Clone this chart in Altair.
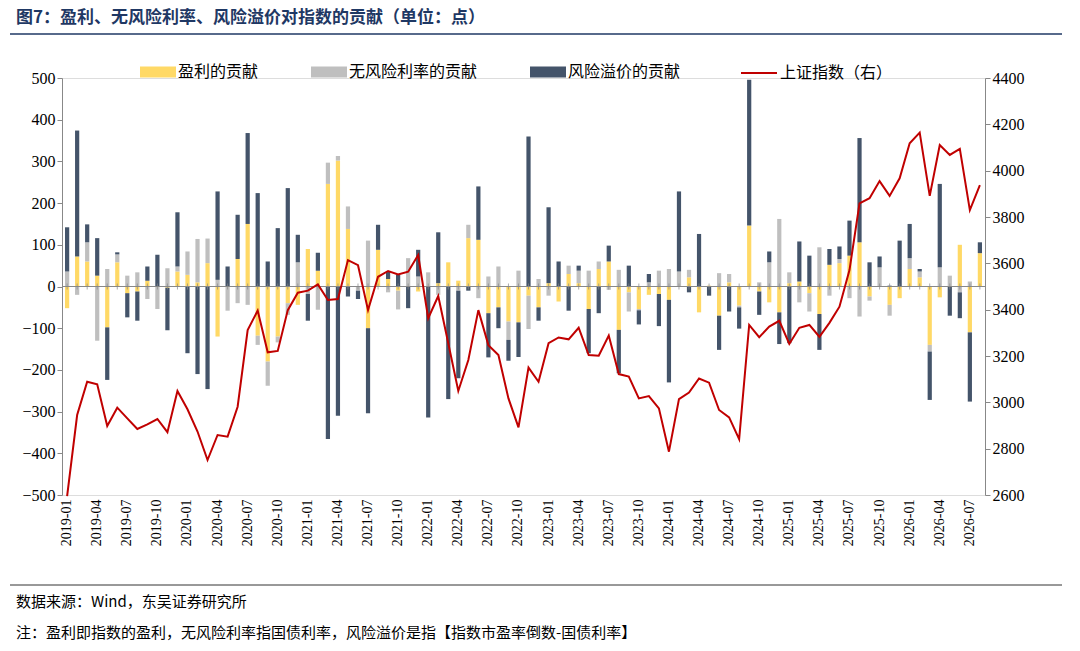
import altair as alt
import pandas as pd

months = [f"{y}-{m:02d}" for y in range(2019, 2027) for m in range(1, 13)][:92]

earn = [-52, 72, 60, 26, -98, 58, -16, -12, 14, 0, -3, 36, 28, 10, 56, -120, 0, 66, 150, -118,
        -180, -120, -40, -44, 90, 38, 246, 302, 138, 0, -100,
        88, 18, -10, 0, -12, 0, 8, 58, 14, 116, 112, -64, -50, -84, -86, -22, -50, 8, -36,
        30, 8, -54, 42, 60, -104, -14, -54, -20, -18, -32,
        0, 22, -62, 2, -70, 10, -46, 146, -12, -38, -62, 8, 12, -16, -66, 52, 56, 74, 106, -24,
        0, -44, -28, 42, 22, -140, -26, 0, 100, -110, 80]
rf = [36, -20, 46, -130, 42, 19, 26, 34, -30, -54, 44, 12, 56, 104, 59, 16, -58, -40, -44, -22,
      -58, -14, -28, 58, -18, -56, 51, 11, 54, -10, 110,
      0, -14, -45, 68, 24, 34, -20, 0, -10, 32, -28, 24, 48, -44, 38, -80, 18, -22, 0,
      20, 30, 38, 18, -8, 40, -46, -3, 10, 38, 42,
      36, 18, 0, 0, 32, 20, -4, 0, 10, 58, 162, 26, -38, -44, 94, -22, 10, -28, -72, -10,
      46, -26, 0, 26, 14, -16, 46, 26, -14, 12, 0]
prem = [106, 302, 43, 90, -126, 5, -58, -70, 34, 76, -102, 130, -160, -210, -246, 212, 48, 106, 218, 224,
        60, 140, 236, 66, -64, 43, -366, -310, -24, -20, -204,
        60, 18, 28, -52, 64, -314, 122, -270, -210, -10, 128, -106, -50, -50, -83, 360, -32, 182, 60,
        -58, 12, -106, -64, 38, -104, 50, -34, 20, -77, -198,
        192, -14, 126, -22, -82, -60, -51, 350, -56, 26, -76, -136, 96, 74, -86, 38, 30, 84, 250, 58,
        26, 2, 110, 82, 6, -116, 200, -70, -62, -166, 26]
index = [2595, 2945, 3089, 3078, 2898, 2977, 2931, 2885, 2905, 2928, 2871, 3049, 2970, 2874, 2751,
         2859, 2852, 2981, 3312, 3396, 3216, 3222, 3398, 3473, 3482, 3509, 3442, 3446, 3614, 3592, 3398,
         3542, 3567, 3552, 3564, 3636, 3363, 3459, 3255, 3049, 3183, 3398, 3247, 3204, 3017, 2892,
         3150, 3089, 3255, 3280, 3272, 3322, 3204, 3201, 3288, 3122, 3111, 3017, 3027, 2974, 2787,
         3014, 3042, 3103, 3085, 2967, 2935, 2841, 3334, 3281, 3327, 3352, 3252, 3322, 3334, 3283,
         3343, 3413, 3571, 3859, 3881, 3955, 3891, 3967, 4118, 4164, 3891, 4111, 4068, 4094, 3830, 3938]

series = ["盈利的贡献", "无风险利率的贡献", "风险溢价的贡献"]
colors = ["#FFD966", "#BFBFBF", "#44546A"]

rows = []
for i, m in enumerate(months):
    for k, vals in enumerate([earn, rf, prem]):
        rows.append({"month": m, "series": series[k], "order": k, "value": vals[i]})
bars_df = pd.DataFrame(rows)
line_df = pd.DataFrame({"month": months, "index": index, "name": "上证指数（右）"})

NUM = "Liberation Serif"
CJK = "Noto Sans CJK SC"

x = alt.X("month:O", sort=months, title=None, scale=alt.Scale(paddingInner=0.58, paddingOuter=0.3),
          axis=alt.Axis(labelExpr="indexof(['01','04','07','10'], slice(datum.value, 5)) >= 0 ? datum.value : ''",
                        labelAngle=270, labelFont=NUM, labelFontSize=14, labelColor="#000",
                        ticks=False, domain=False, labelPadding=4))

bars = alt.Chart(bars_df).mark_bar().encode(
    x=x,
    y=alt.Y("value:Q", title=None, scale=alt.Scale(domain=[-500, 500]),
            axis=alt.Axis(values=list(range(-500, 501, 100)), labelFont=NUM, labelFontSize=16,
                          labelColor="#000", grid=False, domainColor="#888", tickColor="#888", format="d")),
    color=alt.Color("series:N", sort=series, scale=alt.Scale(domain=series, range=colors),
                    legend=alt.Legend(title=None, orient="none", legendX=86, legendY=-16, direction="horizontal",
                                      labelFont=CJK, labelFontSize=16, labelColor="#000",
                                      symbolType="M-1.8,-0.55H1.8V0.55H-1.8Z", symbolSize=400,
                                      symbolStrokeWidth=0, columnPadding=52, labelOffset=10)),
    order=alt.Order("order:Q"),
)
zero_df = pd.DataFrame({"month": months})
zero = alt.Chart(zero_df).mark_rule(color="#888", strokeWidth=1).encode(y=alt.datum(0))
ticks = alt.Chart(zero_df).mark_tick(color="#888", size=6, orient="vertical").encode(
    x=alt.X("month:O", sort=months), y=alt.datum(0))
left = alt.layer(bars, zero, ticks)

line = alt.Chart(line_df).mark_line(strokeWidth=2).encode(
    x=alt.X("month:O", sort=months),
    y=alt.Y("index:Q", title=None, scale=alt.Scale(domain=[2600, 4400]),
            axis=alt.Axis(orient="right", values=list(range(2600, 4401, 200)), labelFont=NUM, labelFontSize=16,
                          labelColor="#000", grid=False, domainColor="#888", tickColor="#888", format="d")),
    stroke=alt.Stroke("name:N", scale=alt.Scale(range=["#C00000"]),
                      legend=alt.Legend(title=None, orient="none", legendX=686, legendY=-16,
                                        labelFont=CJK, labelFontSize=16, labelColor="#000",
                                        symbolType="M-1.8,0H1.8", symbolSize=400, symbolStrokeWidth=2,
                                        labelOffset=10)),
)

texts = pd.DataFrame({"t": ["图7：盈利、无风险利率、风险溢价对指数的贡献（单位：点）",
                            "数据来源：Wind，东吴证券研究所",
                            "注：盈利即指数的盈利，无风险利率指国债利率，风险溢价是指【指数市盈率倒数-国债利率】"]})
title = alt.Chart(texts.iloc[[0]]).mark_text(align="left", baseline="middle", font=CJK, fontSize=17,
                                             fontWeight="bold", color="#1F3864").encode(
    text="t:N", x=alt.value(-46), y=alt.value(-60))
src = alt.Chart(texts.iloc[[1]]).mark_text(align="left", baseline="middle", font=CJK, fontSize=15,
                                           color="#000").encode(text="t:N", x=alt.value(-46), y=alt.value(524))
note = alt.Chart(texts.iloc[[2]]).mark_text(align="left", baseline="middle", font=CJK, fontSize=15,
                                            color="#000").encode(text="t:N", x=alt.value(-46), y=alt.value(555))
top_rule = alt.Chart(texts.iloc[[0]]).mark_rule(color="#1F3864", strokeWidth=1.5).encode(
    x=alt.value(-52), x2=alt.value(1000), y=alt.value(-44))
bot_rule = alt.Chart(texts.iloc[[0]]).mark_rule(color="#333", strokeWidth=1).encode(
    x=alt.value(-52), x2=alt.value(1000), y=alt.value(507))

chart = alt.layer(left, line, title, src, note, top_rule, bot_rule).resolve_scale(
    y="independent", color="independent", stroke="independent"
).properties(
    width=923, height=417, autosize=alt.AutoSizeParams(type="none"),
    padding={"left": 54, "top": 70, "right": 80, "bottom": 150},
).configure_view(stroke=None).configure(background="white")

chart.save("out.html", embed_options={"renderer": "svg", "actions": False})
